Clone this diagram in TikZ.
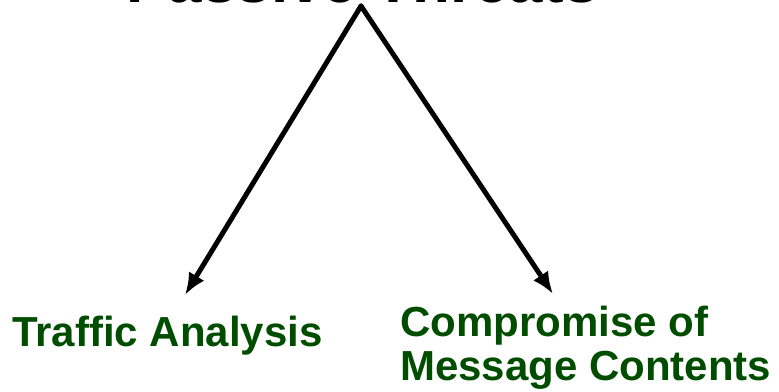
\documentclass[tikz,border=0pt]{standalone}
\usepackage{fontspec}
\setmainfont{Liberation Sans}
\usetikzlibrary{arrows.meta}
\definecolor{labelgreen}{RGB}{0,77,0}
\begin{document}
\begin{tikzpicture}[x=1pt,y=1pt,
  titletext/.style={font=\bfseries\fontsize{62}{62}\selectfont, text=black, inner sep=0pt},
  leaftext/.style={font=\bfseries\fontsize{42}{44}\selectfont, text=labelgreen, inner sep=0pt, align=left},
  branch/.style={line width=5pt, line cap=round, -{Latex[length=22pt,width=18pt]}}]
\useasboundingbox (0,0) rectangle (779,391);
% heading, mostly above the top edge
\node[titletext, anchor=base] (title) at (362.5,388) {Passive Threats};
% split point just under the heading
\coordinate (apex) at (361,385);
% the two kinds of passive threat
\node[leaftext, anchor=base west] (traffic) at (12,45) {Traffic Analysis};
\node[leaftext, anchor=base west] (content) at (400,11) {Compromise of\\Message Contents};
\coordinate (ltip) at (185,96);
\coordinate (rtip) at (553,97);
\draw[branch] (apex) -- (ltip);
\draw[branch] (apex) -- (rtip);
\end{tikzpicture}
\end{document}
